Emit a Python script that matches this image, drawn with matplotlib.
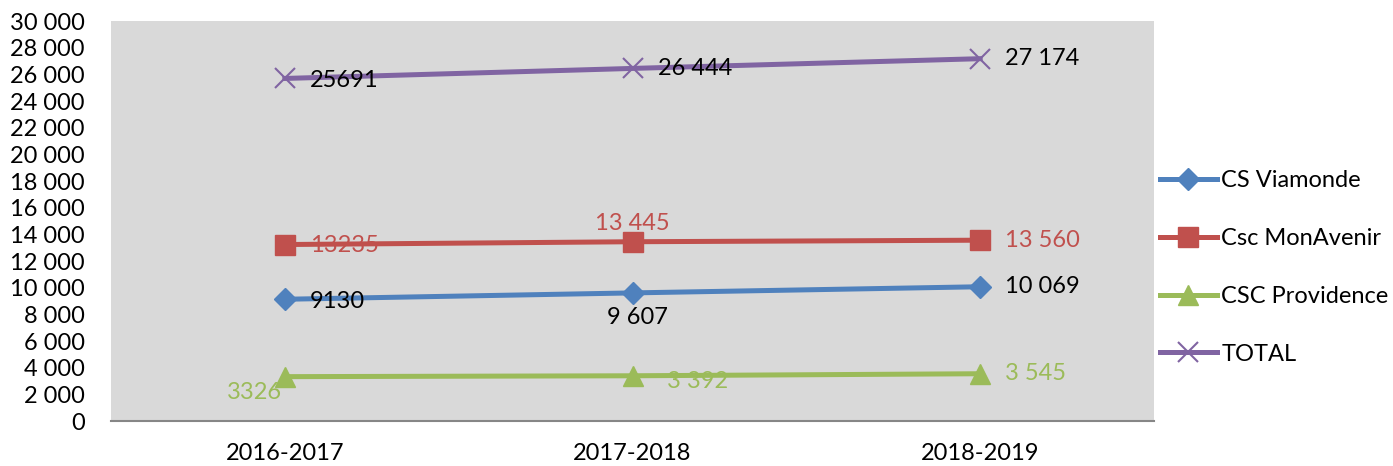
import matplotlib
matplotlib.use("Agg")
import matplotlib.pyplot as plt
from matplotlib.ticker import FuncFormatter, MultipleLocator

plt.rcParams['font.family'] = ['Lato', 'DejaVu Sans']

# donnees
annees = ["2016-2017", "2017-2018", "2018-2019"]
viamonde = [9130, 9607, 10069]
monavenir = [13235, 13445, 13560]
providence = [3326, 3392, 3545]
total = [25691, 26444, 27174]

# etiquettes telles qu'affichees
lab_viamonde = ["9130", "9 607", "10 069"]
lab_monavenir = ["13235", "13 445", "13 560"]
lab_providence = ["3326", "3 392", "3 545"]
lab_total = ["25691", "26 444", "27 174"]

fig = plt.figure(figsize=(13.93, 4.66), dpi=100)
ax = fig.add_axes([111/1393, 45/466, (1154-111)/1393, (421-21)/466])
ax.set_facecolor("#D9D9D9")

x = range(len(annees))
fs = 17
lw = 3.6

l1, = ax.plot(x, viamonde, color="#4F81BD", lw=lw, marker="D", ms=11, label="CS Viamonde")
l2, = ax.plot(x, monavenir, color="#C0504D", lw=lw, marker="s", ms=14, label="Csc MonAvenir")
l3, = ax.plot(x, providence, color="#9BBB59", lw=lw, marker="^", ms=15, label="CSC Providence")
l4, = ax.plot(x, total, color="#8064A2", lw=lw, marker="x", ms=14, mew=1.5, label="TOTAL")

def etiq(vals, labs, couleur, offsets, has):
    for i in x:
        ax.annotate(labs[i], (i, vals[i]), xytext=offsets[i], textcoords="offset pixels",
                    ha=has[i], va="center", fontsize=fs, color=couleur)

etiq(total, lab_total, "black", [(25, -2), (25, 0), (25, 0)], ["left", "left", "left"])
etiq(monavenir, lab_monavenir, "#C0504D", [(25, -1), (0, 18), (25, 0)], ["left", "center", "left"])
etiq(viamonde, lab_viamonde, "black", [(25, -2), (5, -25), (25, 0)], ["left", "center", "left"])
etiq(providence, lab_providence, "#9BBB59", [(-30, -16), (65, -6), (25, 0)], ["center", "center", "left"])

ax.set_xlim(-0.5, 2.5)
ax.set_ylim(0, 30000)
ax.yaxis.set_major_locator(MultipleLocator(2000))
ax.yaxis.set_major_formatter(FuncFormatter(lambda v, p: f"{int(v):,}".replace(",", " ")))
ax.set_xticks(list(x))
ax.set_xticklabels(annees)
ax.tick_params(axis="both", length=0, labelsize=fs)
ax.tick_params(axis="x", pad=16)
ax.tick_params(axis="y", pad=19)

for s in ["top", "right", "left"]:
    ax.spines[s].set_visible(False)
ax.spines["bottom"].set_color("#868686")
ax.spines["bottom"].set_linewidth(1.5)

fig.legend(handles=[l1, l2, l3, l4], loc="center left", bbox_to_anchor=(1160/1393, 0.426),
           frameon=False, fontsize=fs, labelspacing=1.56, handlelength=2.4,
           handletextpad=0.2, borderpad=0, borderaxespad=0)

fig.savefig("out.png", dpi=100)
